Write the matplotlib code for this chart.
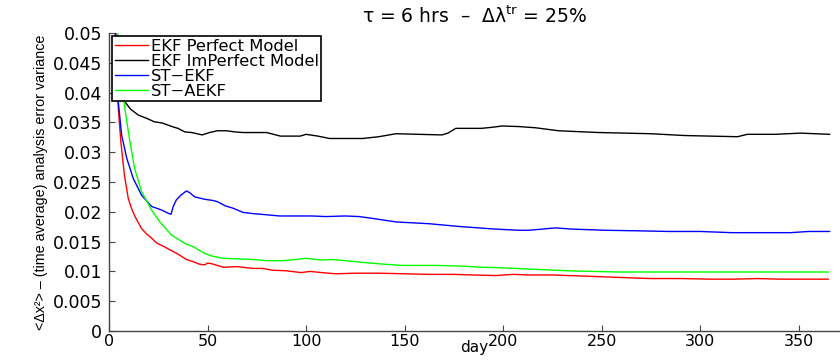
import matplotlib
matplotlib.use("Agg")
import matplotlib.pyplot as plt

# ---- data ----
red_days = [1, 3, 4.7, 6, 7.8, 9.8, 11.5, 13.2, 16.5, 19, 21.6, 24, 28.3, 31, 35, 39.3, 43, 46,
            48.6, 50, 52, 55, 58, 65, 73, 78, 83, 90, 97.5, 102, 108, 115, 125, 137, 150, 162,
            175, 185, 196, 205, 213, 225, 242, 258, 275, 290, 305, 317.6, 329, 340, 352, 365]
red_vals = [0.065, 0.052, 0.0374, 0.0318, 0.0262, 0.0222, 0.0205, 0.0192, 0.0172, 0.0163, 0.0156,
            0.0148, 0.0141, 0.0136, 0.0129, 0.0120, 0.0116, 0.0112, 0.0111, 0.0114, 0.0113, 0.0110,
            0.0107, 0.0108, 0.0105, 0.0105, 0.0102, 0.0101, 0.0098, 0.0100, 0.0098, 0.0096, 0.0097,
            0.0097, 0.0096, 0.0095, 0.0095, 0.0094, 0.0093, 0.0095, 0.0094, 0.0094, 0.0092, 0.0090,
            0.0088, 0.0088, 0.0087, 0.0087, 0.0088, 0.0087, 0.0087, 0.0087]

black_days = [1, 3, 5, 8, 11, 15, 19, 23, 27, 32, 35, 38.5, 42, 47.3, 51, 55, 59.5, 64, 68, 73,
              80, 87, 92, 97, 100, 106, 112, 120, 128.7, 137, 145.6, 157, 169, 172, 176, 183, 189,
              195, 199.5, 208, 216.5, 228, 248.5, 262, 275, 292, 305, 319, 324, 338, 351, 365.7]
black_vals = [0.065, 0.052, 0.042, 0.0385, 0.0372, 0.0362, 0.0357, 0.0351, 0.0349, 0.0343, 0.0340,
              0.0334, 0.0333, 0.0329, 0.0333, 0.0336, 0.0336, 0.0334, 0.0333, 0.0333, 0.0333,
              0.0327, 0.0327, 0.0327, 0.0330, 0.0327, 0.0323, 0.0323, 0.0323, 0.0326, 0.0331,
              0.0330, 0.0329, 0.0332, 0.0340, 0.0340, 0.0340, 0.0342, 0.0344, 0.0343, 0.0341,
              0.0336, 0.0333, 0.0332, 0.0331, 0.0328, 0.0327, 0.0326, 0.0330, 0.0330, 0.0332, 0.0330]

blue_days = [1, 3, 4.7, 6.4, 9, 12.3, 16.5, 21.6, 26.7, 30.4, 31.5, 32.6, 34.2, 36.5, 39.3, 41,
             43.5, 48.6, 52.8, 55, 59, 63, 68, 73, 80, 86.5, 96.7, 103, 110, 120, 127, 133.6,
             145.6, 162.4, 179, 196, 208, 213, 220, 226.6, 235, 252, 270, 284, 300, 316, 330,
             346, 355, 365.7]
blue_vals = [0.065, 0.052, 0.0385, 0.0329, 0.0290, 0.0256, 0.0228, 0.0209, 0.0203, 0.0197, 0.0196,
             0.0209, 0.0220, 0.0228, 0.0235, 0.0232, 0.0225, 0.0221, 0.0219, 0.0217, 0.0210,
             0.0206, 0.0199, 0.0197, 0.0195, 0.0193, 0.0193, 0.0193, 0.0192, 0.0193, 0.0192,
             0.0189, 0.0183, 0.0180, 0.0175, 0.0171, 0.0169, 0.0169, 0.0171, 0.0173, 0.0171,
             0.0169, 0.0168, 0.0167, 0.0167, 0.0165, 0.0165, 0.0165, 0.0167, 0.0167]

green_days = [1, 4.5, 8, 10.6, 13, 16.5, 21.6, 25.8, 31.7, 38.5, 43, 48.6, 53, 58, 65, 73, 80,
              88, 95, 100, 108, 113, 120, 129, 140, 149, 166, 178, 189, 200, 213, 233, 258, 292,
              326, 345, 365]
green_vals = [0.065, 0.050, 0.0374, 0.0318, 0.0273, 0.0234, 0.0203, 0.0183, 0.0161, 0.0147, 0.0141,
              0.0130, 0.0125, 0.0122, 0.0121, 0.0120, 0.0118, 0.0118, 0.0120, 0.0122, 0.0119,
              0.0120, 0.0118, 0.0115, 0.0112, 0.0110, 0.0110, 0.0109, 0.0107, 0.0106, 0.0104,
              0.0101, 0.0099, 0.0099, 0.0099, 0.0099, 0.0099]

labels = ["EKF Perfect Model", "EKF ImPerfect Model", "ST\u2212EKF", "ST\u2212AEKF"]
colors = ["#ff0000", "#000000", "#0000ff", "#00ff00"]

x_ticks = [0, 50, 100, 150, 200, 250, 300, 350]
y_ticks = [0, 0.005, 0.01, 0.015, 0.02, 0.025, 0.03, 0.035, 0.04, 0.045, 0.05]
y_ticklabels = ["0", "0.005", "0.01", "0.015", "0.02", "0.025", "0.03", "0.035", "0.04", "0.045", "0.05"]

title = "\u03c4 = 6 hrs  \u2013  \u0394\u03bb$^{\\rm tr}$ = 25%"
xlabel = "day"
ylabel = "<\u0394x\u00b2> \u2013 (time average) analysis error variance"

# ---- figure ----
fig = plt.figure(figsize=(8.4, 3.62), dpi=100)
ax = fig.add_axes([109 / 840, 1 - 331 / 362, 1 - 109 / 840, (331 - 33) / 362])

series = [(red_days, red_vals), (black_days, black_vals), (blue_days, blue_vals), (green_days, green_vals)]
for (d, v), c, lab in zip(series, colors, labels):
    ax.plot(d, v, color=c, lw=1.0, label=lab)

ax.set_xlim(0, 371)
ax.set_ylim(0, 0.05)
ax.set_xticks(x_ticks)
ax.set_xticklabels([str(t) for t in x_ticks])
ax.set_yticks(y_ticks)
ax.set_yticklabels(y_ticklabels)

for s in ["top", "right"]:
    ax.spines[s].set_visible(False)
for s in ["left", "bottom"]:
    ax.spines[s].set_color("#444444")
    ax.spines[s].set_linewidth(1.0)

ax.tick_params(direction="in", length=4, width=0.8, color="#444444", labelsize=12.5,
               labelcolor="black")
ax.tick_params(axis="y", pad=5)
ax.tick_params(axis="x", pad=2, labelsize=11.5)

ax.set_title(title, fontsize=13.5, pad=7)
ax.set_xlabel(xlabel, fontsize=11, labelpad=-6.5)
ax.set_ylabel(ylabel, fontsize=10.3, family=["Liberation Sans Narrow", "Liberation Sans", "DejaVu Sans"],
              labelpad=3)

leg = ax.legend(loc="upper left", fontsize=11.8, frameon=True, fancybox=False, framealpha=1,
                edgecolor="black", borderaxespad=0.2, labelspacing=0.0, handlelength=2.0,
                handletextpad=0.2, borderpad=0.15)
leg.get_frame().set_linewidth(1.2)

fig.savefig("out.png", dpi=100)
